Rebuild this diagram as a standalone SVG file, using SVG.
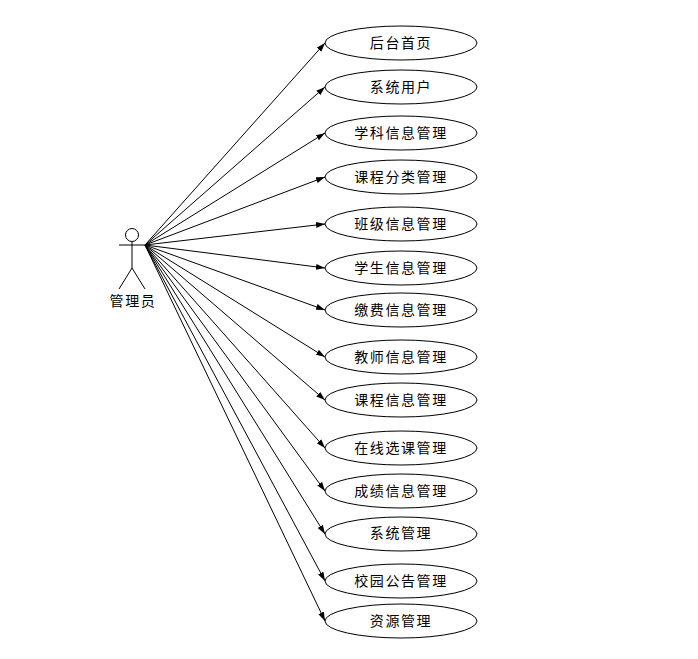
<svg xmlns="http://www.w3.org/2000/svg" width="698" height="659" viewBox="0 0 698 659">
<style>
.s{fill:none;stroke:#000;stroke-width:1}
.e{fill:#fff;stroke:#000;stroke-width:1}
.t{font-family:"Noto Sans CJK SC","Noto Sans CJK JP",sans-serif;font-size:14px;letter-spacing:1.6px;fill:#000;text-anchor:middle}
.c line{stroke:#000;stroke-width:1;marker-end:url(#a)}
</style>
<defs><marker id="a" markerUnits="userSpaceOnUse" markerWidth="10" markerHeight="7" refX="9" refY="3.5" orient="auto"><path d="M0 0.5L9 3.5L0 6.5Z" fill="#000"/></marker></defs>
<rect width="698" height="659" fill="#fff"/>
<g id="connectors" class="c">
<line x1="145" y1="245" x2="325" y2="43"/>
<line x1="145" y1="245" x2="325" y2="87"/>
<line x1="145" y1="245" x2="325" y2="133"/>
<line x1="145" y1="245" x2="325" y2="177"/>
<line x1="145" y1="245" x2="325" y2="224"/>
<line x1="145" y1="245" x2="325" y2="268"/>
<line x1="145" y1="245" x2="325" y2="310"/>
<line x1="145" y1="245" x2="325" y2="357"/>
<line x1="145" y1="245" x2="325" y2="400"/>
<line x1="145" y1="245" x2="325" y2="448"/>
<line x1="145" y1="245" x2="325" y2="491"/>
<line x1="145" y1="245" x2="325" y2="534"/>
<line x1="145" y1="245" x2="325" y2="581"/>
<line x1="145" y1="245" x2="325" y2="621"/>
</g>
<g id="actor">
<circle class="s" cx="132" cy="235" r="6.5"/>
<path class="s" d="M132 242V268M119 245H146M132 268L119 289M132 268L145 289"/>
<text class="t" x="133" y="306">管理员</text>
</g>
<g id="n1"><ellipse class="e" cx="401" cy="43" rx="76" ry="17"/><text class="t" x="401" y="48">后台首页</text></g>
<g id="n2"><ellipse class="e" cx="401" cy="87" rx="76" ry="17"/><text class="t" x="401" y="92">系统用户</text></g>
<g id="n3"><ellipse class="e" cx="401" cy="133" rx="76" ry="17"/><text class="t" x="401" y="138">学科信息管理</text></g>
<g id="n4"><ellipse class="e" cx="401" cy="177" rx="76" ry="17"/><text class="t" x="401" y="182">课程分类管理</text></g>
<g id="n5"><ellipse class="e" cx="401" cy="224" rx="76" ry="17"/><text class="t" x="401" y="229">班级信息管理</text></g>
<g id="n6"><ellipse class="e" cx="401" cy="268" rx="76" ry="17"/><text class="t" x="401" y="273">学生信息管理</text></g>
<g id="n7"><ellipse class="e" cx="401" cy="310" rx="76" ry="17"/><text class="t" x="401" y="315">缴费信息管理</text></g>
<g id="n8"><ellipse class="e" cx="401" cy="357" rx="76" ry="17"/><text class="t" x="401" y="362">教师信息管理</text></g>
<g id="n9"><ellipse class="e" cx="401" cy="400" rx="76" ry="17"/><text class="t" x="401" y="405">课程信息管理</text></g>
<g id="n10"><ellipse class="e" cx="401" cy="448" rx="76" ry="17"/><text class="t" x="401" y="453">在线选课管理</text></g>
<g id="n11"><ellipse class="e" cx="401" cy="491" rx="76" ry="17"/><text class="t" x="401" y="496">成绩信息管理</text></g>
<g id="n12"><ellipse class="e" cx="401" cy="534" rx="76" ry="17"/><text class="t" x="401" y="538">系统管理</text></g>
<g id="n13"><ellipse class="e" cx="401" cy="581" rx="76" ry="17"/><text class="t" x="401" y="586">校园公告管理</text></g>
<g id="n14"><ellipse class="e" cx="401" cy="621" rx="76" ry="17"/><text class="t" x="401" y="626">资源管理</text></g>
</svg>
